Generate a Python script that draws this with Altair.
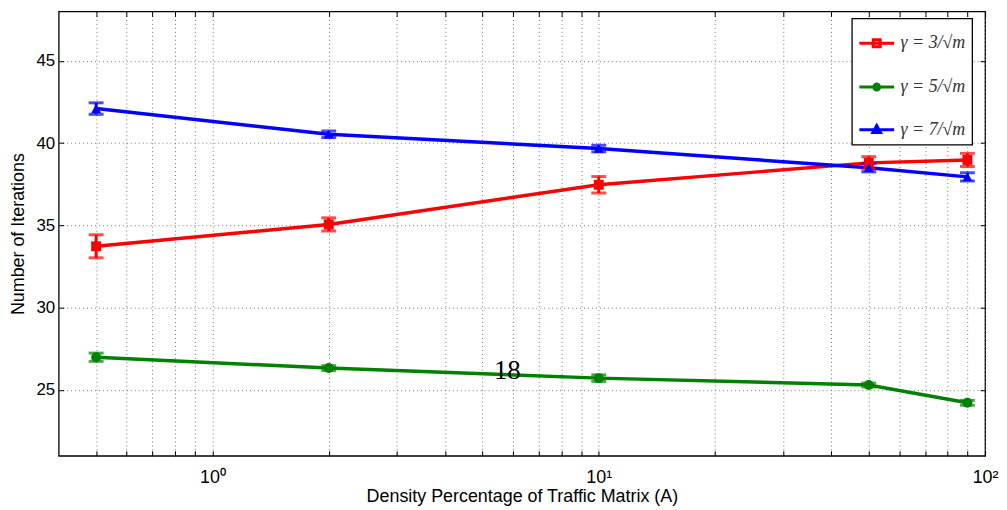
import altair as alt
import pandas as pd

# ---- data ----
density = [0.5, 2, 10, 50, 90]
series_names = ["γ = 3/√m", "γ = 5/√m", "γ = 7/√m"]
series_ids = [0, 1, 2]
iters_g3 = [33.73, 35.06, 37.47, 38.80, 38.98]
err_g3 = [0.70, 0.40, 0.50, 0.38, 0.40]
iters_g5 = [26.99, 26.33, 25.72, 25.30, 24.22]
err_g5 = [0.25, 0.15, 0.20, 0.12, 0.15]
iters_g7 = [42.10, 40.54, 39.67, 38.50, 37.95]
err_g7 = [0.35, 0.20, 0.20, 0.25, 0.25]

colors = ["#ff0000", "#008000", "#0000ff"]
marker_shapes = ["square", "circle", "triangle-up"]
legend_symbols = [
    "M-1,0H1M-0.2,-0.2H0.2V0.2H-0.2Z",
    "M-1,0H1M0.17,0A0.17,0.17 0 1,1 -0.17,0A0.17,0.17 0 1,1 0.17,0Z",
    "M-1,0H1M0,-0.24L0.22,0.16L-0.22,0.16Z",
]

x_grid_values = [0.5, 0.6, 0.7, 0.8, 0.9, 1, 2, 3, 4, 5, 6, 7, 8, 9,
                 10, 20, 30, 40, 50, 60, 70, 80, 90, 100]
x_major_values = [1, 10, 100]
x_major_labels = ["10⁰", "10¹", "10²"]
y_tick_values = [25, 30, 35, 40, 45]

annotation_text = ["18"]
annotation_x = [5.8]
annotation_y = [26.15]

rows = []
for k, name, vals, errs in zip(series_ids, series_names,
                               [iters_g3, iters_g5, iters_g7],
                               [err_g3, err_g5, err_g7]):
    for d, v, e in zip(density, vals, errs):
        rows.append({"series": name, "k": k, "density": d, "iters": v,
                     "lo": v - e, "hi": v + e})
df = pd.DataFrame(rows)
ann = pd.DataFrame({"t": annotation_text, "x": annotation_x, "y": annotation_y})

label_expr = " : ".join(
    f"datum.value == {v} ? '{l}'" for v, l in zip(x_major_values, x_major_labels)
) + " : ''"

xscale = alt.Scale(type="log", domain=[0.4, 100], nice=False)
yscale = alt.Scale(domain=[21, 48], nice=False, zero=False)
kscale = alt.Scale(domain=series_ids, range=colors)
sscale = alt.Scale(domain=series_names, range=colors)

FONT = "Liberation Sans"

x_bottom = alt.Axis(values=x_grid_values, labelExpr=label_expr, offset=-5,
                    tickSize=5, tickColor="black", domain=False, grid=True,
                    gridDash=[1, 3], gridColor="#777", gridWidth=1,
                    labelFont=FONT, labelFontSize=18, labelColor="black",
                    labelPadding=13, labelFlush=False, labelOverlap=False,
                    title="Density Percentage of Traffic Matrix (A)",
                    titleFont=FONT, titleFontSize=18, titleFontWeight="normal",
                    titleColor="black", titlePadding=1)
y_left = alt.Axis(values=y_tick_values, offset=-5, tickSize=5, tickColor="black",
                  domain=False, grid=True, gridDash=[1, 3], gridColor="#777",
                  labelFont=FONT, labelFontSize=17, labelColor="black",
                  labelPadding=4, title="Number of Iterations", titleFont=FONT,
                  titleFontSize=18, titleFontWeight="normal", titleColor="black",
                  titlePadding=8)
x_top = alt.Axis(orient="top", values=x_grid_values, offset=-5, tickSize=5,
                 tickColor="black", domain=False, grid=False, labels=False,
                 title=None)
y_right = alt.Axis(orient="right", values=y_tick_values, offset=-5, tickSize=5,
                   tickColor="black", domain=False, grid=False, labels=False,
                   title=None)

base = alt.Chart(df)
kcolor = alt.Color("k:N", scale=kscale, legend=None)

lines = base.mark_line(strokeWidth=3.5).encode(
    x=alt.X("density:Q", scale=xscale, axis=x_bottom),
    y=alt.Y("iters:Q", scale=yscale, axis=y_left),
    color=kcolor,
    order="density:Q",
)

bars = base.mark_rule(strokeWidth=3).encode(
    x=alt.X("density:Q", scale=xscale, axis=None),
    y=alt.Y("lo:Q", scale=yscale, axis=None),
    y2="hi:Q",
    color=kcolor,
)
cap_lo = base.mark_tick(orient="horizontal", size=15, thickness=3).encode(
    x=alt.X("density:Q", scale=xscale, axis=None),
    y=alt.Y("lo:Q", scale=yscale, axis=None),
    color=kcolor,
)
cap_hi = base.mark_tick(orient="horizontal", size=15, thickness=3).encode(
    x=alt.X("density:Q", scale=xscale, axis=None),
    y=alt.Y("hi:Q", scale=yscale, axis=None),
    color=kcolor,
)

marker_layers = []
for k, shp in zip(series_ids, marker_shapes):
    marker_layers.append(
        base.transform_filter(alt.datum.k == k).mark_point(
            filled=True, size=100, opacity=1, shape=shp).encode(
            x=alt.X("density:Q", scale=xscale, axis=None),
            y=alt.Y("iters:Q", scale=yscale, axis=None),
            color=kcolor,
        )
    )

legend_layer = base.transform_filter("false").mark_point(
    filled=False, size=1225, strokeWidth=3, opacity=1).encode(
    x=alt.X("density:Q", scale=xscale, axis=x_top),
    y=alt.Y("iters:Q", scale=yscale, axis=y_right),
    stroke=alt.Stroke("series:N", scale=sscale, title=None),
    shape=alt.Shape("series:N", scale=alt.Scale(domain=series_names,
                                                range=legend_symbols), title=None),
)

text = alt.Chart(ann).mark_text(font="Liberation Serif", fontSize=27,
                                color="black").encode(
    x=alt.X("x:Q", scale=xscale, axis=None),
    y=alt.Y("y:Q", scale=yscale, axis=None),
    text="t:N",
)

chart = alt.layer(lines, legend_layer, bars, cap_lo, cap_hi, *marker_layers,
                  text).resolve_axis(
    x="independent", y="independent"
).properties(
    width=932, height=447,
    autosize=alt.AutoSizeParams(type="none"),
    padding={"left": 51, "top": 2, "right": 14, "bottom": 50},
).configure_view(
    stroke="black", strokeWidth=1.3
).configure_legend(
    orient="none", legendX=798, legendY=7, padding=6,
    strokeColor="black", fillColor="white", strokeWidth=1.3,
    labelFont="Liberation Serif", labelFontSize=18, labelColor="#333",
    labelFontStyle="italic",
    symbolSize=1225, symbolStrokeWidth=3, rowPadding=15, labelOffset=5,
    symbolOpacity=1,
)

chart.save("out.html", embed_options={"renderer": "svg", "actions": False})
